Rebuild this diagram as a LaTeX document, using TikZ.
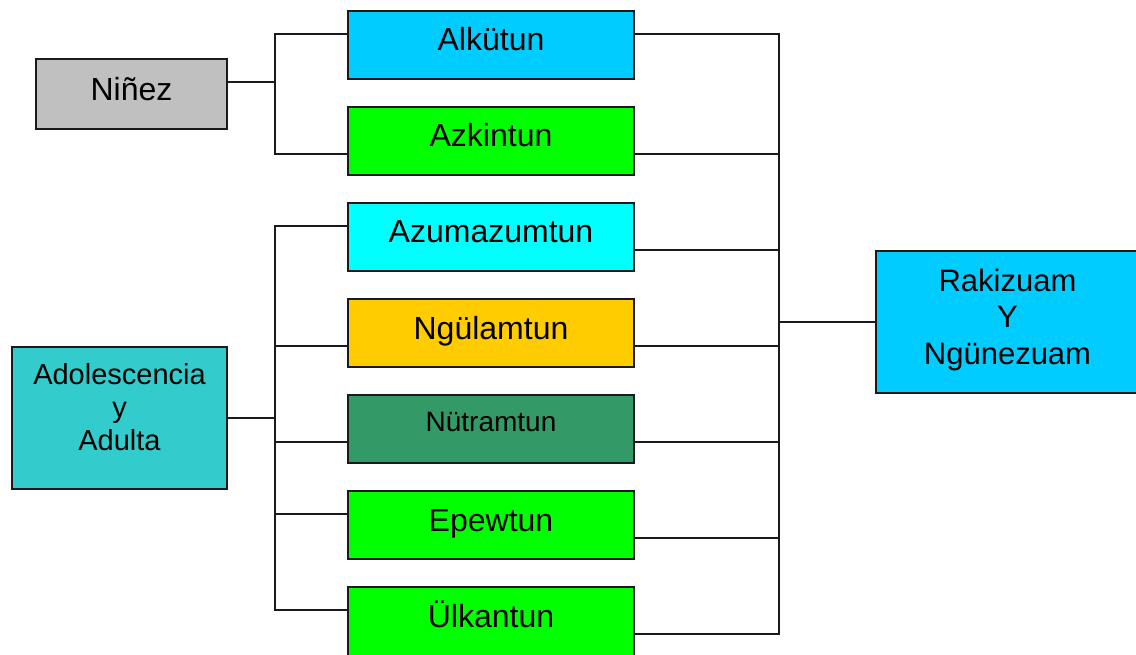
\documentclass[tikz,border=0pt]{standalone}
\usepackage{fontspec}
\setmainfont{Liberation Sans}
\usetikzlibrary{calc}

\definecolor{cgray}{HTML}{C0C0C0}
\definecolor{csky}{HTML}{00CCFF}
\definecolor{clime}{HTML}{00FF00}
\definecolor{caqua}{HTML}{00FFFF}
\definecolor{cgold}{HTML}{FFCC00}
\definecolor{csea}{HTML}{339966}
\definecolor{cteal}{HTML}{33CCCC}
\definecolor{cline}{HTML}{1A1A1A}

\tikzset{
  box/.style={draw=cline, line width=2pt, rectangle, inner sep=0pt, outer sep=0pt, anchor=north west},
  stage/.style={box, minimum width=286pt, minimum height=68pt},
  lbl/.style={anchor=base, inner sep=0pt, text=black, font=\fontsize{32}{36}\selectfont},
  lblsmall/.style={lbl, font=\fontsize{28}{32}\selectfont},
  lblmid/.style={lbl, font=\fontsize{29}{33}\selectfont},
  lblrak/.style={lbl, font=\fontsize{31}{35}\selectfont},
  wire/.style={draw=cline, line width=1.8pt, line cap=rect}
}

\begin{document}
\begin{tikzpicture}[x=1pt, y=-1pt]
\useasboundingbox (0,0) rectangle (1136,654);
\clip (0,0) rectangle (1136,654);
\fill[white] (0,0) rectangle (1136,654);

% left-hand groups
\node[box, fill=cgray, minimum width=191pt, minimum height=70pt] (ninez) at (36,59) {};
\node[lbl] (ninezT) at (131.5,100) {Niñez};

\node[box, fill=cteal, minimum width=215pt, minimum height=142pt] (adol) at (12,347) {};
\node[lblmid] (adolT1) at (119.5,384) {Adolescencia};
\node[lblmid] (adolT2) at (119.5,417.3) {y};
\node[lblmid] (adolT3) at (119.5,450.7) {Adulta};

% the seven stages (the last one runs past the lower edge)
\node[stage, fill=csky]  (alk)  at (348,11)  {};
\node[stage, fill=clime] (azk)  at (348,107) {};
\node[stage, fill=caqua] (azu)  at (348,203) {};
\node[stage, fill=cgold] (ngu)  at (348,299) {};
\node[stage, fill=csea]  (nut)  at (348,395) {};
\node[stage, fill=clime] (epe)  at (348,491) {};
\node[stage, fill=clime, minimum height=80pt] (ulk)  at (348,587) {};

\node[lbl] (alkT) at (491,50.7)  {Alkütun};
\node[lbl] (azkT) at (491,146.7) {Azkintun};
\node[lbl] (azuT) at (491,242)   {Azumazumtun};
\node[lbl] (nguT) at (491,339)   {Ngülamtun};
\node[lblsmall] (nutT) at (491,431.3) {Nütramtun};
\node[lbl] (epeT) at (491,531)   {Epewtun};
\node[lbl] (ulkT) at (491,627)   {Ülkantun};

% right-hand box (runs past the right edge)
\node[box, fill=csky, minimum width=265pt, minimum height=142pt] (rak) at (876,251) {};
\node[lblrak] (rakT1) at (1007.5,291.7) {Rakizuam};
\node[lblrak] (rakT2) at (1007.5,327.3) {Y};
\node[lblrak] (rakT3) at (1007.5,364)   {Ngünezuam};

% bus junctions
\coordinate (na) at (275,34);
\coordinate (nm) at (275,82);
\coordinate (nb) at (275,154);

\coordinate (aa) at (275,226);
\coordinate (ab) at (275,346);
\coordinate (am) at (275,418);
\coordinate (ac) at (275,442);
\coordinate (ad) at (275,514);
\coordinate (ae) at (275,610);

\coordinate (r1) at (779,34);
\coordinate (r2) at (779,154);
\coordinate (r3) at (779,250);
\coordinate (rm) at (779,322);
\coordinate (r4) at (779,346);
\coordinate (r5) at (779,442);
\coordinate (r6) at (779,538);
\coordinate (r7) at (779,634);

% Niñez branch
\draw[wire] (ninez.east |- nm) -- (nm);
\draw[wire] (na) -- (nb);
\draw[wire] (na) -- (alk.west |- na);
\draw[wire] (nb) -- (azk.west |- nb);

% Adolescencia branch
\draw[wire] (adol.east |- am) -- (am);
\draw[wire] (aa) -- (ae);
\draw[wire] (aa) -- (azu.west |- aa);
\draw[wire] (ab) -- (ngu.west |- ab);
\draw[wire] (ac) -- (nut.west |- ac);
\draw[wire] (ad) -- (epe.west |- ad);
\draw[wire] (ae) -- (ulk.west |- ae);

% collecting bus on the right
\draw[wire] (r1) -- (r7);
\draw[wire] (alk.east |- r1) -- (r1);
\draw[wire] (azk.east |- r2) -- (r2);
\draw[wire] (azu.east |- r3) -- (r3);
\draw[wire] (ngu.east |- r4) -- (r4);
\draw[wire] (nut.east |- r5) -- (r5);
\draw[wire] (epe.east |- r6) -- (r6);
\draw[wire] (ulk.east |- r7) -- (r7);
\draw[wire] (rm) -- (rak.west |- rm);
\end{tikzpicture}
\end{document}
